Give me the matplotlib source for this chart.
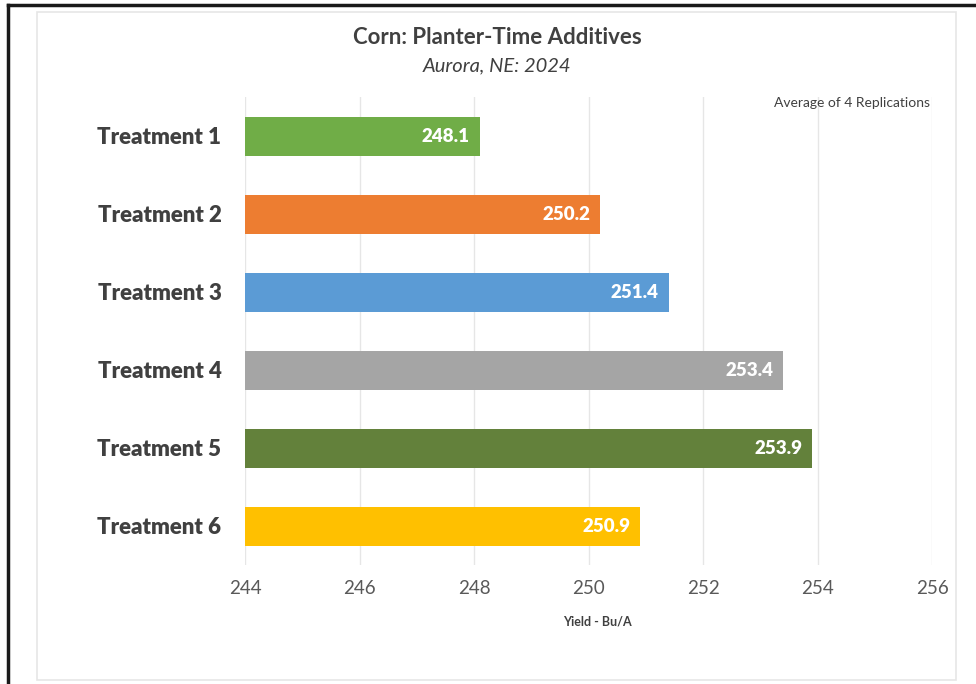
import matplotlib
matplotlib.use("Agg")
import matplotlib.pyplot as plt
from matplotlib.lines import Line2D
from matplotlib.patches import Rectangle

treatments = ["Treatment 1", "Treatment 2", "Treatment 3",
              "Treatment 4", "Treatment 5", "Treatment 6"]
yields = [248.1, 250.2, 251.4, 253.4, 253.9, 250.9]
colors = ["#70AD47", "#ED7D31", "#5B9BD5", "#A5A5A5", "#63813B", "#FFC000"]
xticks = [244, 246, 248, 250, 252, 254, 256]

fig = plt.figure(figsize=(9.76, 6.84), dpi=100)
fig.patch.set_facecolor("white")

# frame lines
fig.add_artist(Rectangle((37/976, 1-680/684), (956-37)/976, (680-12)/684,
                         transform=fig.transFigure, fill=False,
                         edgecolor="#E6E6E6", linewidth=1.2))
fig.add_artist(Line2D([8/976, 8/976], [0, 1-5/684], transform=fig.transFigure,
                      color="#1a1a1a", linewidth=2.5))
fig.add_artist(Line2D([8/976, 1], [1-5/684, 1-5/684], transform=fig.transFigure,
                      color="#1a1a1a", linewidth=2.5))

ax = fig.add_axes([245/976, 1-565/684, (932-245)/976, (565-97)/684])
ypos = list(range(len(treatments)))
base = xticks[0]
ax.barh(ypos, [v - base for v in yields], left=base, height=0.5,
        color=colors, zorder=3)
for y, v in zip(ypos, yields):
    ax.text(v - 0.17, y, f"{v:.1f}", ha="right", va="center", color="white",
            fontsize=13.5, fontweight="heavy", family="Lato", zorder=4)

ax.set_xlim(xticks[0], xticks[-1])
ax.set_ylim(len(treatments) - 0.5, -0.5)
ax.set_xticks(xticks)
ax.set_yticks(ypos)
ax.set_yticklabels(treatments, fontsize=16, fontweight="heavy",
                   family="Lato", color="#404040")
ax.set_xticklabels([str(t) for t in xticks], fontsize=13.5,
                   family="Lato", color="#595959")
ax.tick_params(axis="both", length=0)
ax.tick_params(axis="y", pad=17)
ax.tick_params(axis="x", pad=11)
ax.grid(axis="x", color="#E6E6E6", linewidth=1, zorder=0)
for s in ax.spines.values():
    s.set_visible(False)

fig.text(497/976, 1-38/684, "Corn: Planter-Time Additives", ha="center",
         va="center", fontsize=16, fontweight="bold", family="Lato",
         color="#404040")
fig.text(497/976, 1-66/684, "Aurora, NE: 2024", ha="center", va="center",
         fontsize=14.5, style="italic", family="Lato", color="#404040")
fig.text(930/976, 1-103/684, "Average of 4 Replications", ha="right",
         va="center", fontsize=10, family="Lato", color="#404040")
fig.text(597/976, 1-622/684, "Yield - Bu/A", ha="center", va="center",
         fontsize=9, fontweight="bold", family="Lato", color="#404040")

fig.savefig("out.png", dpi=100, facecolor="white")
